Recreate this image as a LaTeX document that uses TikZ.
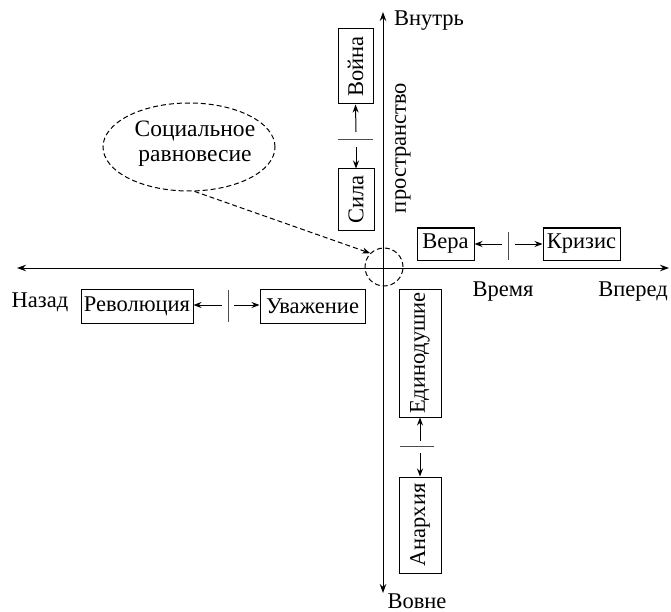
\documentclass[tikz,border=0pt]{standalone}
\usepackage{fontspec}
\usepackage{graphicx}
\setmainfont{Liberation Serif}
\newfontfamily\rfont{Liberation Serif}
\usetikzlibrary{arrows.meta,shapes.geometric}
\begin{document}
\begin{tikzpicture}[x=1pt,y=-1pt,
  txt/.style={font=\rfont\fontsize{22.5}{25}\selectfont, inner sep=0pt},
  boxn/.style={draw, line width=1pt, font=\rfont\fontsize{22.5}{26}\selectfont, inner sep=0pt},
  axis/.style={line width=1pt, {Stealth[length=9pt,width=6.5pt]}-{Stealth[length=9pt,width=6.5pt]}},
  conn/.style={line width=1pt, -{Stealth[length=8pt,width=6pt]}},
  tick/.style={line width=1pt, black!70},
  dashd/.style={dash pattern=on 5pt off 3pt, line width=1pt}
]
\useasboundingbox (0,0) rectangle (671,612);

% axes
\coordinate (L) at (17,268);
\coordinate (R) at (669,268);
\coordinate (T) at (383,12);
\coordinate (B) at (383,593);
\draw[axis] (L) -- (R);
\draw[axis] (T) -- (B);

% axis labels
\node[txt] (vnutr) at (429,21) {Внутрь};
\node[txt] (vovne) at (417,601) {Вовне};
\node[txt] (nazad) at (40,302) {Назад};
\node[txt] (vpered) at (633,292) {Вперед};
\node[txt] (vremya) at (503,292) {Время};
\node[txt] (prostr) at (403,148) {\rotatebox{90}{пространство}};

% boxes
\node[boxn, minimum width=35pt, minimum height=75pt] (voina) at (355.5,66.5) {\rotatebox{90}{Война}};
\node[boxn, minimum width=36pt, minimum height=61pt] (sila) at (356,199.5) {\rotatebox{90}{Сила}};
\node[boxn, minimum width=57pt, minimum height=32pt] (vera) at (445.5,244) {Вера};
\node[boxn, minimum width=77pt, minimum height=32pt] (kriz) at (581.5,244) {Кризис};
\node[boxn, minimum width=112pt, minimum height=34pt] (rev) at (137,306) {Революция};
\node[boxn, minimum width=105pt, minimum height=34pt] (uva) at (312.5,306) {Уважение};
\node[boxn, minimum width=42pt, minimum height=128pt] (edin) at (420,353) {\rotatebox{90}{Единодушие}};
\node[boxn, minimum width=42pt, minimum height=96pt] (anar) at (420,525) {\rotatebox{90}{Анархия}};

% separators
\coordinate (t1a) at (338,140); \coordinate (t1b) at (373,140);
\draw[tick] (t1a) -- (t1b);
\coordinate (t2a) at (508,232); \coordinate (t2b) at (508,260);
\draw[tick] (t2a) -- (t2b);
\coordinate (t3a) at (228,290); \coordinate (t3b) at (228,322);
\draw[tick] (t3a) -- (t3b);
\coordinate (t4a) at (400,446); \coordinate (t4b) at (434,446);
\draw[tick] (t4a) -- (t4b);

% connectors
\coordinate (s1u) at (356,132); \coordinate (s1d) at (356,147);
\draw[conn] (s1u) -- (voina.south);
\draw[conn] (s1d) -- (sila.north);
\coordinate (s2l) at (502,244); \coordinate (s2r) at (515,244);
\draw[conn] (s2l) -- (vera.east);
\draw[conn] (s2r) -- (kriz.west);
\coordinate (s3l) at (222,305); \coordinate (s3r) at (234,305);
\draw[conn] (s3l) -- (rev.east |- s3l);
\draw[conn] (s3r) -- (uva.west |- s3r);
\coordinate (s4u) at (420,441); \coordinate (s4d) at (420,453);
\draw[conn] (s4u) -- (edin.south);
\draw[conn] (s4d) -- (anar.north);

% social equilibrium
\node[dashd, draw, ellipse, minimum width=172pt, minimum height=88pt] (eq) at (189,147) {};
\node[txt, align=center, font=\rfont\fontsize{23.5}{25}\selectfont] (eqt) at (195,144) {Социальное\\равновесие};
\node[dashd, draw, circle, minimum size=38pt, inner sep=0pt] (circ) at (384,267) {};
\draw[dashd, -{Stealth[length=8pt,width=6pt]}] (eq.-83) -- (circ.135);
\end{tikzpicture}
\end{document}
